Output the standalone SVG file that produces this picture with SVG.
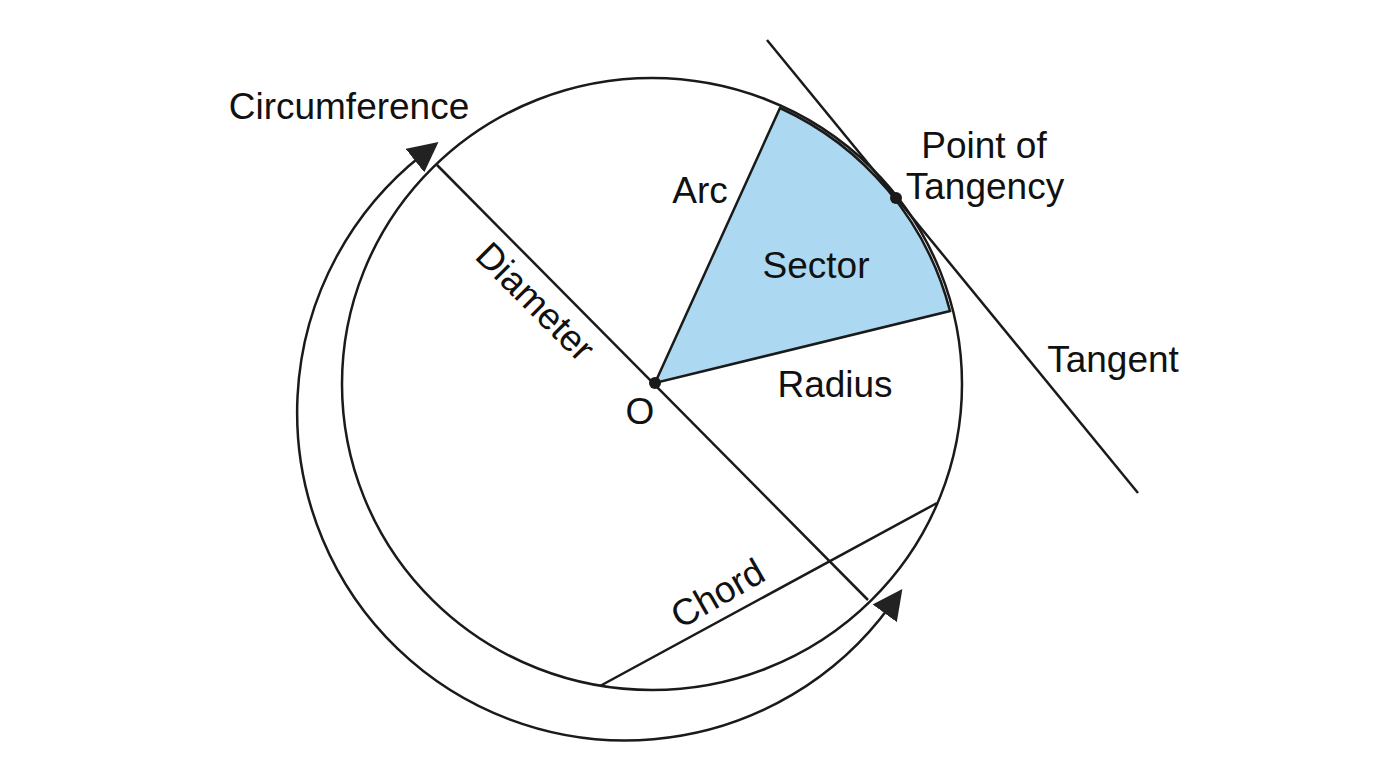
<svg xmlns="http://www.w3.org/2000/svg" width="1376" height="768" viewBox="0 0 1376 768">
<style>
.l{stroke:#1a1a1a;stroke-width:2.5;fill:none}
text{font-family:"Liberation Sans",Arial,sans-serif;font-size:37px;fill:#111;text-anchor:middle}
</style>
<defs><marker id="ah" viewBox="0 0 10 10" refX="6" refY="5" markerWidth="9" markerHeight="9" markerUnits="userSpaceOnUse" orient="auto-start-reverse"><path d="M0,0 L10,5 L0,10 z" fill="#1a1a1a"/></marker>
<marker id="a2" viewBox="0 0 10 10" refX="3" refY="5" markerWidth="30" markerHeight="30" markerUnits="userSpaceOnUse" orient="auto-start-reverse"><path d="M0,0 L10,5 L0,10 z" fill="#222"/></marker></defs>
<rect width="1376" height="768" fill="#fff"/>
<g id="sector"><path d="M655,383 L780,108 A308,308 0 0 1 950,311 Z" fill="#acd9f1" stroke="#1a1a1a" stroke-width="2.5"/></g>
<g id="circle"><ellipse cx="652" cy="384" rx="310" ry="306" class="l"/></g>
<g id="connectors">
<line x1="437" y1="165" x2="868" y2="600" class="l"/>
<line x1="767" y1="40" x2="1138" y2="493" class="l"/>
<line x1="600" y1="686" x2="937" y2="503" class="l"/>
<path d="M890,606 A328,328 0 1 1 422,155" class="l" marker-start="url(#a2)" marker-end="url(#a2)"/>
</g>
<g id="points"><circle cx="655" cy="383" r="6" fill="#1a1a1a"/><circle cx="896" cy="198" r="6" fill="#1a1a1a"/></g>
<g id="labels">
<text x="349" y="119">Circumference</text>
<text x="700" y="203">Arc</text>
<text x="984" y="158">Point of</text>
<text x="985" y="199">Tangency</text>
<text x="816" y="278">Sector</text>
<text x="835" y="397">Radius</text>
<text x="640" y="424">O</text>
<text x="1113" y="372">Tangent</text>
<text transform="translate(535,302) rotate(45)" y="12">Diameter</text>
<text transform="translate(718,594) rotate(-30)" y="12">Chord</text>
</g>
</svg>
